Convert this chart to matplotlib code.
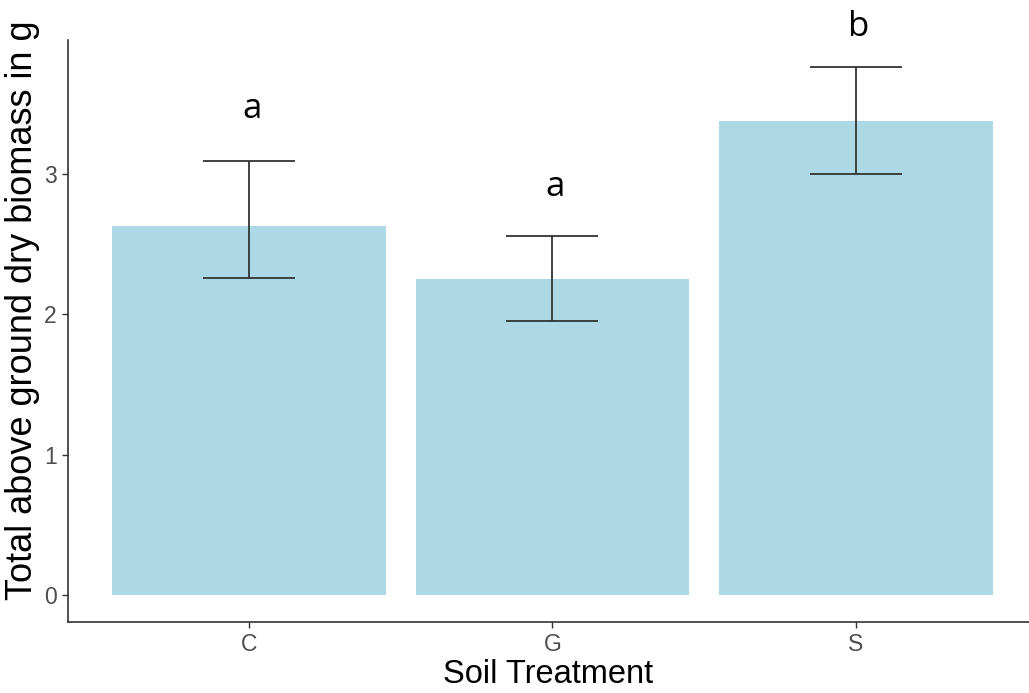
import matplotlib
matplotlib.use("Agg")
import matplotlib.pyplot as plt

# Data
treatments = ["C", "G", "S"]
biomass = [2.63, 2.25, 3.38]
err_low = [2.26, 1.95, 3.00]
err_high = [3.09, 2.56, 3.76]
letters = ["a", "a", "b"]
letter_y = [3.46, 2.91, 4.05]

plt.rcParams["font.family"] = ["Liberation Sans", "DejaVu Sans"]

fig = plt.figure(figsize=(10.29, 6.93), dpi=100)
ax = fig.add_axes([0.0661, 0.1025, 0.9339, 0.8398])

x = range(len(treatments))
ax.bar(x, biomass, width=0.9, color="#ADD8E6", zorder=1)

yerr = [[b - lo for b, lo in zip(biomass, err_low)],
        [hi - b for b, hi in zip(biomass, err_high)]]
ax.errorbar(x, biomass, yerr=yerr, fmt="none", ecolor="#333333",
            elinewidth=1.3, capsize=33, capthick=1.3, zorder=2)

for xi, lab, ly in zip(x, letters, letter_y):
    ax.text(xi + 0.01, ly, lab, ha="center", va="center", fontsize=25,
            family=["Open Sans", "DejaVu Sans"], clip_on=False)

ax.set_xlim(-0.596, 2.57)
ax.set_ylim(-0.192, 3.955)
ax.set_xticks(list(x))
ax.set_xticklabels(treatments)
ax.set_yticks([0, 1, 2, 3])

ax.tick_params(axis="both", colors="#333333", labelcolor="#4D4D4D",
               labelsize=16.5, length=4, width=1, pad=4)
for side in ["top", "right"]:
    ax.spines[side].set_visible(False)
for side in ["left", "bottom"]:
    ax.spines[side].set_color("#333333")
    ax.spines[side].set_linewidth(1.2)

ax.set_xlabel("Soil Treatment", fontsize=23.5, labelpad=2)
ax.set_ylabel("Total above ground dry biomass in g", fontsize=26,
              va="center")
ax.yaxis.set_label_coords(-0.047, 0.535)

fig.savefig("out.png", dpi=100)
